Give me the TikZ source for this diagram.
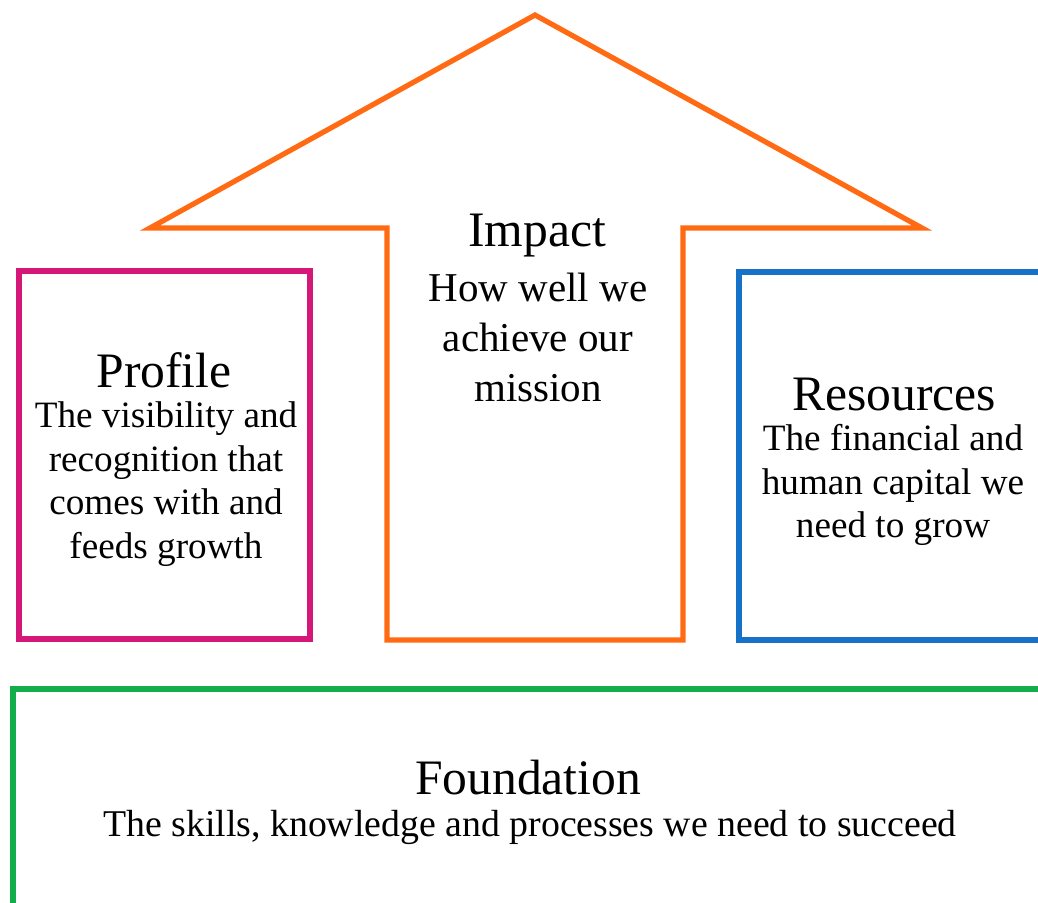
\documentclass[tikz,border=0pt]{standalone}
\usepackage{fontspec}
\setmainfont{Liberation Serif}
\definecolor{arroworange}{HTML}{FF6A13}
\definecolor{profilemag}{HTML}{D6177A}
\definecolor{resblue}{HTML}{1572C8}
\definecolor{foundgreen}{HTML}{12AE4B}
\tikzset{
  px/.style={x=0.5pt,y=-0.5pt},
  frame/.style={line width=2.6pt},
  head/.style={font=\fontsize{24.8}{28}\selectfont, inner sep=0pt},
  body/.style={font=\fontsize{20.5}{25}\selectfont, align=center, inner sep=0pt},
  bodytight/.style={font=\fontsize{18.6}{21.7}\selectfont, align=center, inner sep=0pt},
  bodywide/.style={font=\fontsize{18.9}{25}\selectfont, align=center, inner sep=0pt},
}
\begin{document}
\begin{tikzpicture}[px]
\useasboundingbox (0,0) rectangle (1038,902);
\clip (0,0) rectangle (1038,902);
\fill[white] (0,0) rectangle (1038,902);
% Impact arrow
\coordinate (apex) at (535,15);
\coordinate (lt) at (150,228);
\coordinate (rt) at (922,228);
\draw[frame, arroworange, line join=miter]
  (apex) -- (rt) -- (683,228) -- (683,640) -- (387,640) -- (387,228) -- (lt) -- cycle;
% Profile box
\draw[frame, profilemag] (19,271) rectangle (310,639);
% Resources box
\draw[frame, resblue] (739,272) rectangle (1060,640);
% Foundation box
\draw[frame, foundgreen] (13,689) rectangle (1060,930);
% Texts
\node[head] (impact) at (537,236) {Impact};
\node[body] (impactbody) at (538,337) {How well we\\achieve our\\mission};
\node[head] (profile) at (164,370) {Profile};
\node[bodytight] (profilebody) at (166,484) {The visibility and\\recognition that\\comes with and\\feeds growth};
\node[head] (resources) at (894,394) {Resources};
\node[bodytight] (resourcesbody) at (893,485) {The financial and\\human capital we\\need to grow};
\node[head] (foundation) at (528,778) {Foundation};
\node[bodywide] (foundationbody) at (530,827) {The skills, knowledge and processes we need to succeed};
\end{tikzpicture}
\end{document}
